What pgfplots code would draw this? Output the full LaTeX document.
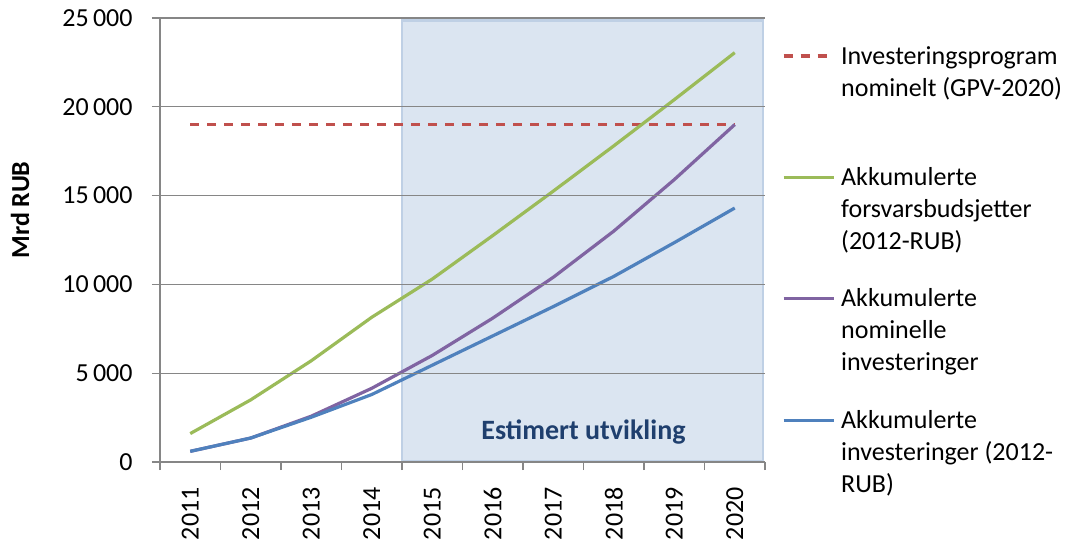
\documentclass[border=0pt]{standalone}
\usepackage{pgfplots}
\pgfplotsset{compat=1.18}
\usepackage{fontspec}
\setmainfont{Carlito}

\definecolor{progred}{HTML}{C0504D}
\definecolor{budgreen}{HTML}{9BBB59}
\definecolor{nompurple}{HTML}{8064A2}
\definecolor{realblue}{HTML}{4F81BD}
\definecolor{gridgray}{HTML}{868686}
\definecolor{estfill}{HTML}{DBE5F1}
\definecolor{estedge}{HTML}{BFD0E5}
\definecolor{esttext}{HTML}{1F3F6E}

\newcommand{\lgd}[1]{\begin{tabular}[t]{@{}l@{}}#1\end{tabular}}

\begin{document}
\begin{tikzpicture}
\path[use as bounding box] (0,0) rectangle (536pt,271pt);
\begin{axis}[
  at={(80pt,40pt)}, anchor=south west,
  scale only axis, width=302.5pt, height=222pt,
  xmin=-0.5, xmax=9.5, ymin=0, ymax=25000,
  axis x line*=bottom, axis y line*=left,
  axis line style={-, draw=gridgray, line width=0.6pt},
  axis on top,
  tick align=outside,
  major tick length=4pt, minor tick length=4pt,
  tick style={draw=gridgray, line width=0.6pt},
  xtick={0,...,9},
  xticklabels={2011,2012,2013,2014,2015,2016,2017,2018,2019,2020},
  minor xtick={-0.5,0.5,...,9.5},
  major x tick style={draw=none},
  ytick={0,5000,...,25000},
  scaled y ticks=false,
  ymajorgrids,
  grid style={draw=gridgray, line width=0.6pt},
  /pgf/number format/assume math mode=true,
  /pgf/number format/1000 sep={\,},
  tick label style={font=\fontsize{13}{16}\selectfont},
  xticklabel style={yshift=-8.5pt, rotate=90, anchor=east, inner sep=0pt},
  yticklabel style={xshift=-9.5pt, anchor=east, inner sep=0pt},
  ylabel={\bfseries Mrd RUB},
  every axis y label/.style={at={(axis description cs:-0.2314,0.5676)},
    rotate=90, anchor=center, font=\fontsize{13}{16}\selectfont},
  legend image code/.code={\draw[#1] (0pt,4pt) -- (25pt,4pt);},
  legend style={at={(1.028,0.9468)}, anchor=north west,
    draw=none, fill=none, inner sep=0pt, outer sep=0pt,
    row sep=48pt, cells={anchor=base west},
    nodes={inner sep=0pt},
    /tikz/every odd column/.append style={column sep=3pt},
    font=\fontsize{13}{16}\selectfont},
  every axis plot/.append style={line width=1.6pt},
]

% estimated period, 2015-2020
\addplot[forget plot, fill=estfill, draw=estedge, line width=1.2pt]
  coordinates {(3.5,60) (9.47,60) (9.47,24850) (3.5,24850)} -- cycle;

\addplot[progred, dash pattern=on 4.5pt off 4pt] coordinates {
  (0,19000) (1,19000) (2,19000) (3,19000) (4,19000)
  (5,19000) (6,19000) (7,19000) (8,19000) (9,19000)};
\addlegendentry{\lgd{Investeringsprogram\\nominelt (GPV-2020)}}

\addplot[budgreen] coordinates {
  (0,1600) (1,3500) (2,5700) (3,8150) (4,10300)
  (5,12750) (6,15250) (7,17800) (8,20400) (9,23050)};
\addlegendentry{\lgd{Akkumulerte\\forsvarsbudsjetter\\(2012-RUB)}}

\addplot[nompurple] coordinates {
  (0,600) (1,1350) (2,2580) (3,4150) (4,6000)
  (5,8100) (6,10400) (7,13000) (8,15900) (9,19000)};
\addlegendentry{\lgd{Akkumulerte\\nominelle\\investeringer}}

\addplot[realblue] coordinates {
  (0,600) (1,1350) (2,2520) (3,3800) (4,5450)
  (5,7100) (6,8750) (7,10450) (8,12350) (9,14300)};
\addlegendentry{\lgd{Akkumulerte\\investeringer (2012-\\RUB)}}

\node[anchor=base, text=esttext, font=\fontsize{14}{16}\selectfont\bfseries]
  at (axis cs:6.5,1240) {Estimert utvikling};
\end{axis}
\end{tikzpicture}
\end{document}
